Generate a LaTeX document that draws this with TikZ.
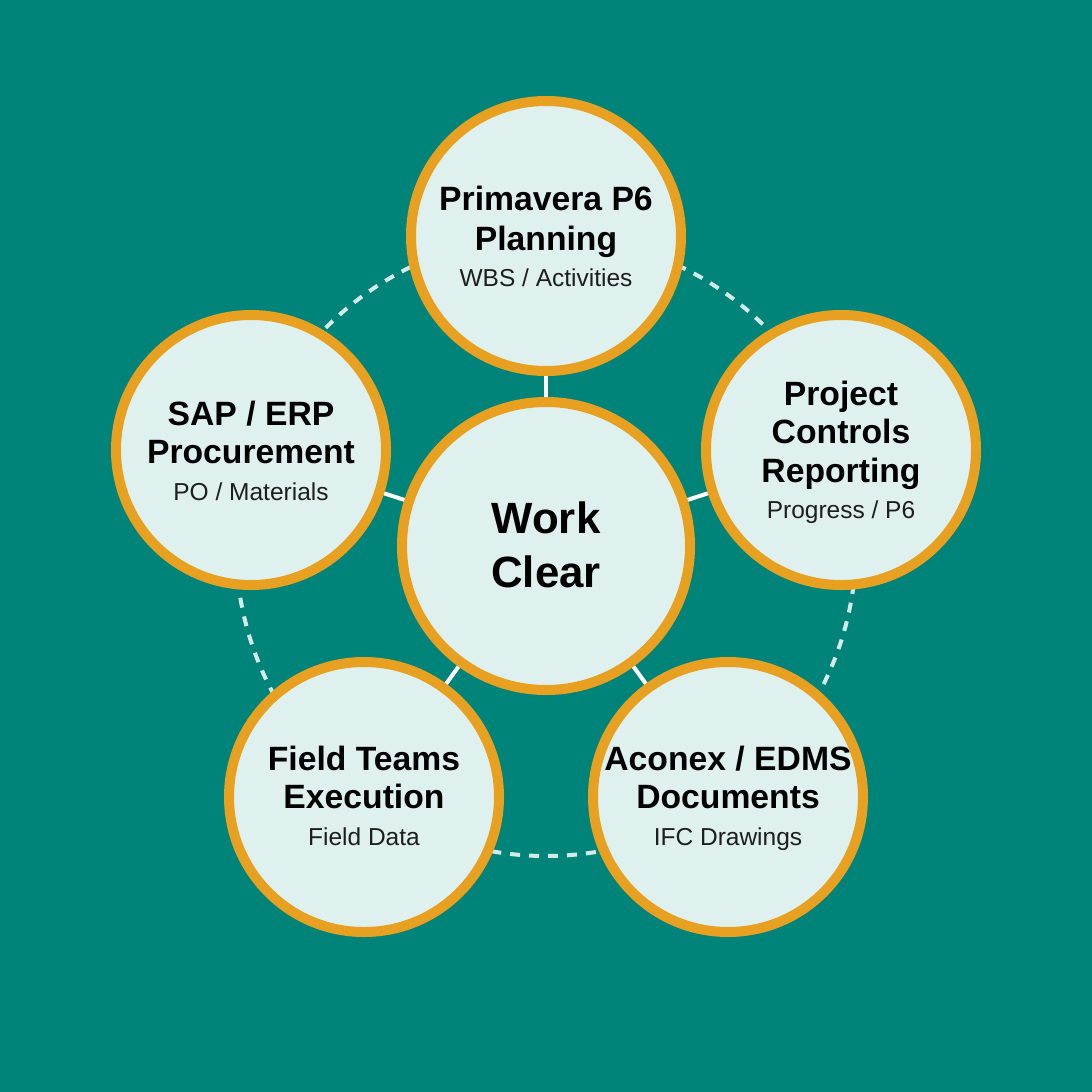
\documentclass[tikz,border=0pt]{standalone}
\usepackage{fontspec}
\setmainfont{Liberation Sans}
\definecolor{bg}{HTML}{00847A}
\definecolor{ring}{HTML}{E8A020}
\definecolor{disc}{HTML}{DFF1EF}
\definecolor{dashcol}{HTML}{D4ECE9}
\definecolor{subcol}{HTML}{1E1E1E}
\begin{document}
\begin{tikzpicture}[x=1pt,y=-1pt,
  orbit/.style={draw=dashcol, line width=4pt, dash pattern=on 10pt off 9pt},
  spoke/.style={draw=white, line width=4pt},
  hubdisc/.style={circle, draw=ring, fill=disc, line width=10pt, inner sep=0pt, minimum size=288pt},
  satdisc/.style={circle, draw=ring, fill=disc, line width=10pt, inner sep=0pt, minimum size=270pt},
  ttl/.style={anchor=base, inner sep=0pt, font=\fontsize{33.7}{39}\selectfont\bfseries, text=black},
  sub/.style={anchor=base, inner sep=0pt, font=\fontsize{24.5}{28}\selectfont, text=subcol},
  hubttl/.style={anchor=base, inner sep=0pt, font=\fontsize{43.8}{52}\selectfont\bfseries, text=black}]
\fill[bg] (0,0) rectangle (1092,1092);
\useasboundingbox (0,0) rectangle (1092,1092);
\coordinate (c) at (546,546);
\coordinate (pt) at (546,236);
\coordinate (pr) at (841,450);
\coordinate (pl) at (251,450);
\coordinate (pbl) at (364,797);
\coordinate (pbr) at (728,797);
% orbit
\draw[orbit] (c) circle[radius=310];
% spokes
\draw[spoke] (c) -- (pt);
\draw[spoke] (c) -- (pr);
\draw[spoke] (c) -- (pl);
\draw[spoke] (c) -- (pbl);
\draw[spoke] (c) -- (pbr);
% discs
\node[hubdisc] (hub) at (c) {};
\node[satdisc] (top) at (pt) {};
\node[satdisc] (right) at (pr) {};
\node[satdisc] (left) at (pl) {};
\node[satdisc] (bl) at (pbl) {};
\node[satdisc] (br) at (pbr) {};
% hub text
\node[hubttl] (hub1) at (546,533) {Work};
\node[hubttl] (hub2) at (546,587) {Clear};
% top
\node[ttl] (t1) at (546,210) {Primavera P6};
\node[ttl] (t2) at (546,250) {Planning};
\node[sub] (t3) at (546,286) {WBS / Activities};
% right
\node[ttl] (r1) at (841,405) {Project};
\node[ttl] (r2) at (841,443) {Controls};
\node[ttl] (r3) at (841,482) {Reporting};
\node[sub] (r4) at (841,518) {Progress / P6};
% left
\node[ttl] (l1) at (251,425) {SAP / ERP};
\node[ttl] (l2) at (251,463) {Procurement};
\node[sub] (l3) at (251,500) {PO / Materials};
% bottom left
\node[ttl] (bl1) at (364,770) {Field Teams};
\node[ttl] (bl2) at (364,808) {Execution};
\node[sub] (bl3) at (364,845) {Field Data};
% bottom right
\node[ttl] (br1) at (728,770) {Aconex / EDMS};
\node[ttl] (br2) at (728,808) {Documents};
\node[sub] (br3) at (728,845) {IFC Drawings};
\end{tikzpicture}
\end{document}
